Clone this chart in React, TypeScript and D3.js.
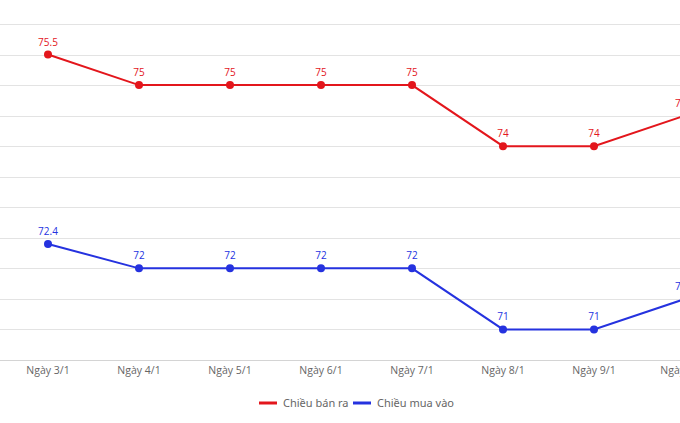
import { useEffect, useRef } from "react";
import * as d3 from "d3";

const days = ["Ngày 3/1", "Ngày 4/1", "Ngày 5/1", "Ngày 6/1", "Ngày 7/1", "Ngày 8/1", "Ngày 9/1", "Ngày 10/1"];
const sellValues = [75.5, 75, 75, 75, 75, 74, 74, 74.5];
const buyValues = [72.4, 72, 72, 72, 72, 71, 71, 71.5];
const gridTicks = [70.5, 71, 71.5, 72, 72.5, 73, 73.5, 74, 74.5, 75, 75.5, 76];

const series = [
  { name: "Chiều bán ra", values: sellValues, color: "#e3161c" },
  { name: "Chiều mua vào", values: buyValues, color: "#2532df" },
];

const W = 680;
const H = 423;

export default function App() {
  const svgRef = useRef<SVGSVGElement>(null);

  useEffect(() => {
    if (!svgRef.current) return;
    const svg = d3.select(svgRef.current);
    svg.selectAll("*").remove();

    const x = d3.scaleBand<string>().domain(days).range([2.5, 2.5 + 91 * days.length]);
    const y = d3.scaleLinear().domain([70.5, 76]).range([360, 24]);
    const cx = (d: string) => (x(d) ?? 0) + x.bandwidth() / 2;

    // grid
    svg
      .append("g")
      .selectAll("line")
      .data(gridTicks)
      .join("line")
      .attr("x1", 0)
      .attr("x2", W)
      .attr("y1", (d) => Math.round(y(d)) + 0.5)
      .attr("y2", (d) => Math.round(y(d)) + 0.5)
      .attr("stroke", (d) => (d === 70.5 ? "#d4d4d4" : "#e3e3e3"))
      .attr("stroke-width", 1);

    // x labels
    svg
      .append("g")
      .selectAll("text")
      .data(days)
      .join("text")
      .attr("x", cx)
      .attr("y", 374)
      .attr("text-anchor", "middle")
      .attr("font-family", "'Open Sans', sans-serif")
      .attr("font-size", 10.5)
      .attr("fill", "#666")
      .text((d) => d);

    const line = d3
      .line<number>()
      .x((_, i) => cx(days[i]))
      .y((d) => y(d));

    series.forEach((s) => {
      const g = svg.append("g");
      g.append("path")
        .datum(s.values)
        .attr("fill", "none")
        .attr("stroke", s.color)
        .attr("stroke-width", 2)
        .attr("d", line);
      g.selectAll("circle")
        .data(s.values)
        .join("circle")
        .attr("cx", (_, i) => cx(days[i]))
        .attr("cy", (d) => y(d))
        .attr("r", 4)
        .attr("fill", s.color);
      g.selectAll("text")
        .data(s.values)
        .join("text")
        .attr("x", (_, i) => cx(days[i]))
        .attr("y", (d) => y(d) - 9)
        .attr("text-anchor", "middle")
        .attr("font-family", "'Open Sans', sans-serif")
        .attr("font-size", 10)
        .attr("fill", s.color)
        .text((d) => String(d));
    });

    // legend
    const legend = svg.append("g").attr("transform", "translate(259,403)");
    let offset = 0;
    series.forEach((s) => {
      const item = legend.append("g").attr("transform", `translate(${offset},0)`);
      item.append("line")
        .attr("x1", 0)
        .attr("x2", 18)
        .attr("y1", 0)
        .attr("y2", 0)
        .attr("stroke", s.color)
        .attr("stroke-width", 3);
      item.append("text")
        .attr("x", 24)
        .attr("y", 4)
        .attr("font-family", "'Noto Sans', sans-serif")
        .attr("font-size", 11)
        .attr("fill", "#666")
        .text(s.name);
      offset += 94;
    });
  }, []);

  return (
    <svg
      ref={svgRef}
      width={W}
      height={H}
      style={{ position: "absolute", left: 0, top: 0, background: "#fff" }}
    />
  );
}
